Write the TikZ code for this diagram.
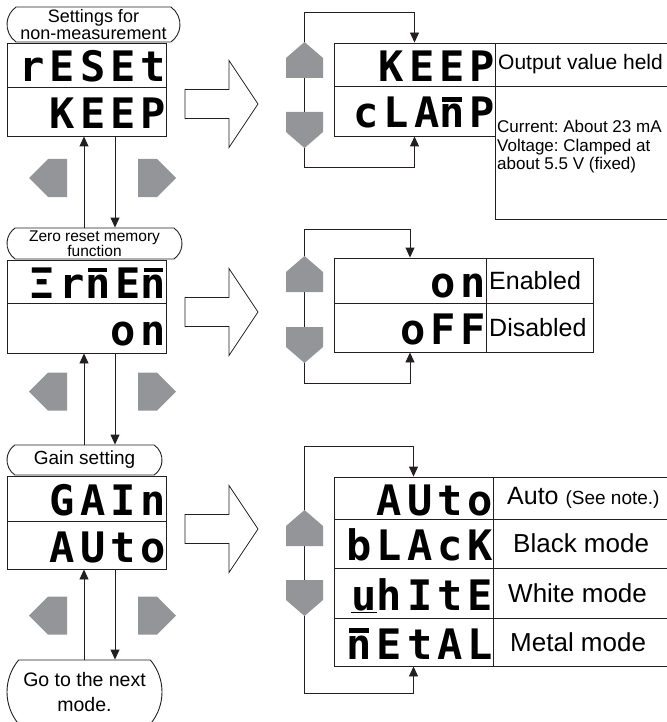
\documentclass[tikz,border=0pt]{standalone}
\usepackage{fontspec}
\setmainfont{Liberation Sans}
\newfontfamily\segfont{DejaVu Sans Mono Bold}[LetterSpace=12]
\usetikzlibrary{arrows.meta,shapes.misc}
\definecolor{grayfill}{RGB}{148,149,153}
\definecolor{ink}{RGB}{35,31,32}
\frenchspacing
\newcommand\nbar{\makebox[0pt][l]{\hspace{0.07em}\rule[0.63em]{0.46em}{0.1em}}n}
\newcommand\UpPent[1]{\fill[grayfill] (304.5,#1) -- (323,#1+16) -- (323,#1+36) -- (286,#1+36) -- (286,#1+16) -- cycle;}
\newcommand\DownPent[1]{\fill[grayfill] (286,#1) -- (323,#1) -- (323,#1+20) -- (304.5,#1+36) -- (286,#1+20) -- cycle;}
\newcommand\SideArrs[1]{%
  \fill[grayfill] (29,#1) -- (48,#1-19) -- (67,#1-19) -- (67,#1+19) -- (48,#1+19) -- cycle;
  \fill[grayfill] (138,#1-19) -- (157,#1-19) -- (176,#1) -- (157,#1+19) -- (138,#1+19) -- cycle;}
\newcommand\BigArr[1]{\draw[bigarr] (185,#1-14.5) -- (229,#1-14.5) -- (229,#1-43.5) -- (258,#1) -- (229,#1+43.5) -- (229,#1+14.5) -- (185,#1+14.5) -- cycle;}
\tikzset{
  lab/.style={draw=ink, line width=0.9pt, rounded rectangle, rounded rectangle arc length=110, inner sep=0pt, align=center},
  cell/.style={draw=ink, line width=0.9pt, rectangle, inner sep=0pt},
  disp/.style={draw=ink, line width=0.9pt, rectangle, inner xsep=0pt, inner ysep=0pt, align=right,
    font=\segfont\fontsize{42}{42}\selectfont, text height=34pt, text depth=0pt},
  arr/.style={draw=ink, line width=0.9pt, -{Triangle[length=10pt,width=9pt]}},
  arrs/.style={draw=ink, line width=0.9pt, {Triangle[length=10pt,width=9pt]}-{Triangle[length=10pt,width=9pt]}},
  bigarr/.style={draw=ink, line width=0.8pt, fill=white, line join=miter},
  txt/.style={inner sep=0pt, anchor=west, align=left}
}
\begin{document}
\begin{tikzpicture}[x=1pt,y=-1pt]
\useasboundingbox (0,0) rectangle (666,722);
\coordinate (u) at (84,0);
\coordinate (v) at (115,0);

% ---------------- left column ----------------
\node[lab, minimum width=173, minimum height=35, font=\fontsize{18}{15}\selectfont] (l1) at (93.5,24.5) {Settings for\\non-measurement};
\node[disp, text width=159, minimum height=44] (d1a) at (86.5,65) {rESEt};
\node[disp, text width=159, minimum height=49] (d1b) at (86.5,111.5) {KEEP};

\node[lab, minimum width=175, minimum height=31, font=\fontsize{15.5}{14}\selectfont] (l2) at (94.5,243.5) {Zero reset memory\\function};
\node[disp, text width=159, minimum height=43] (d2a) at (86.5,281.5) {Ξr\nbar E\nbar};
\node[disp, text width=159, minimum height=50] (d2b) at (86.5,328) {on};

\node[lab, minimum width=155, minimum height=30, font=\fontsize{19}{19}\selectfont] (l3) at (84.5,460) {Gain setting};
\node[disp, text width=159, minimum height=45] (d3a) at (86.5,498.5) {GAIn};
\node[disp, text width=159, minimum height=48] (d3b) at (86.5,545) {AUto};

\node[lab, rounded rectangle arc length=80, minimum width=155, minimum height=64, font=\fontsize{19.5}{25}\selectfont] (l4) at (84.5,692) {Go to the next\\mode.};

\draw[arr] (l2.north -| u) -- (d1b.south -| u);
\draw[arr] (d1b.south -| v) -- (l2.north -| v);
\draw[arr] (l3.north -| u) -- (d2b.south -| u);
\draw[arr] (d2b.south -| v) -- (l3.north -| v);
\draw[arr] (l4.north -| u) -- (d3b.south -| u);
\draw[arr] (d3b.south -| v) -- (l4.north -| v);

\SideArrs{178}
\SideArrs{391.5}
\SideArrs{615.5}

\BigArr{104}
\BigArr{312}
\BigArr{529}

% ---------------- right column: section 1 ----------------
\node[disp, text width=161, minimum height=43] (t1a) at (414.5,64.5) {KEEP};
\node[disp, text width=161, minimum height=50] (t1b) at (414.5,111) {cLA\nbar P};
\node[cell, minimum width=172, minimum height=43] (t1c) at (581,64.5) {};
\node[cell, minimum width=172, minimum height=133] (t1d) at (581,152.5) {};
\node[txt, font=\fontsize{21}{21}\selectfont] (t1ct) at (498,64.5) {Output value held};
\node[txt, font=\fontsize{17}{18.5}\selectfont] (t1dt) at (497,147) {Current: About 23 mA\\Voltage: Clamped at\\about 5.5 V (fixed)};
\coordinate (k1t) at (304,12);
\coordinate (k1b) at (304,167);
\draw[arrs] (t1b.south) |- (k1b) -- (k1t) -| (t1a.north);
\UpPent{42}
\DownPent{112}

% ---------------- right column: section 2 ----------------
\node[disp, text width=152, minimum height=45] (t2a) at (410,280.5) {on};
\node[disp, text width=152, minimum height=49] (t2b) at (410,327.5) {oFF};
\node[cell, minimum width=107, minimum height=45] (t2c) at (539.5,280.5) {};
\node[cell, minimum width=107, minimum height=49] (t2d) at (539.5,327.5) {};
\node[txt, font=\fontsize{25}{25}\selectfont] (t2ct) at (489,281) {Enabled};
\node[txt, font=\fontsize{25}{25}\selectfont] (t2dt) at (489,328) {Disabled};
\coordinate (k2t) at (304,229);
\coordinate (k2b) at (304,383);
\draw[arrs] (t2b.south) |- (k2b) -- (k2t) -| (t2a.north);
\UpPent{256}
\DownPent{327}

% ---------------- right column: section 3 ----------------
\node[disp, text width=159, minimum height=42] (t3a) at (413.5,498) {AUto};
\node[disp, text width=159, minimum height=49] (t3b) at (413.5,543.5) {bLAcK};
\node[disp, text width=159, minimum height=50] (t3c) at (413.5,593) {\underline{u}hItE};
\node[disp, text width=159, minimum height=48] (t3d) at (413.5,642) {\nbar EtAL};
\node[cell, minimum width=174, minimum height=42] (t3e) at (580,498) {};
\node[cell, minimum width=174, minimum height=49] (t3f) at (580,543.5) {};
\node[cell, minimum width=174, minimum height=50] (t3g) at (580,593) {};
\node[cell, minimum width=174, minimum height=48] (t3h) at (580,642) {};
\node[txt, font=\fontsize{25}{25}\selectfont] (t3et) at (507,498) {Auto {\fontsize{19}{19}\selectfont(See note.)}};
\node[txt, font=\fontsize{26}{26}\selectfont] (t3ft) at (513,543.5) {Black mode};
\node[txt, font=\fontsize{26}{26}\selectfont] (t3gt) at (508,593) {White mode};
\node[txt, font=\fontsize{26}{26}\selectfont] (t3ht) at (510,642) {Metal mode};
\coordinate (k3t) at (304,446);
\coordinate (k3b) at (304,693);
\draw[arrs] (t3d.south) |- (k3b) -- (k3t) -| (t3a.north);
\UpPent{510}
\DownPent{580}
\end{tikzpicture}
\end{document}
